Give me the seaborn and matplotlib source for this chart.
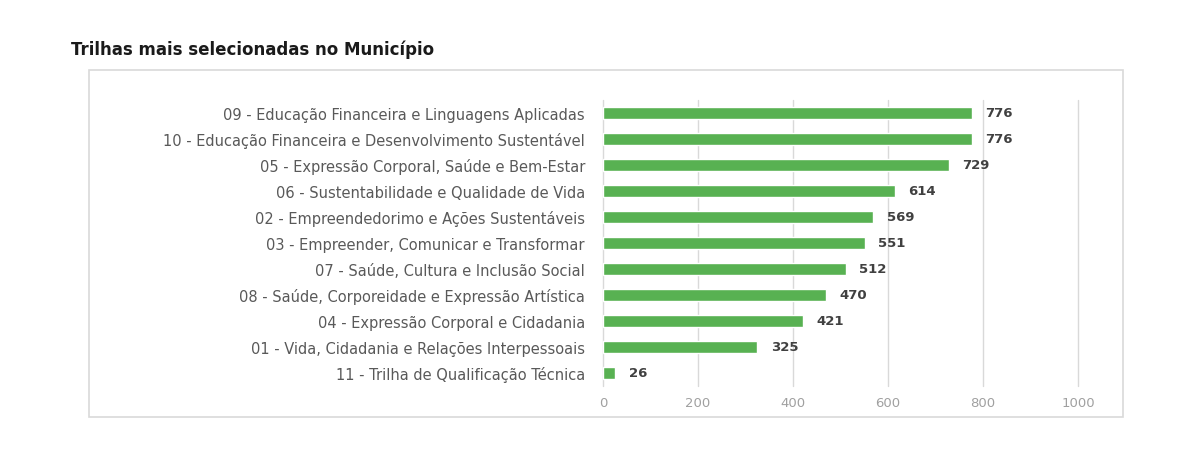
import matplotlib
matplotlib.use("Agg")
import matplotlib.pyplot as plt
import seaborn as sns
import pandas as pd
from matplotlib.patches import Rectangle

categories = [
    "09 - Educação Financeira e Linguagens Aplicadas",
    "10 - Educação Financeira e Desenvolvimento Sustentável",
    "05 - Expressão Corporal, Saúde e Bem-Estar",
    "06 - Sustentabilidade e Qualidade de Vida",
    "02 - Empreendedorimo e Ações Sustentáveis",
    "03 - Empreender, Comunicar e Transformar",
    "07 - Saúde, Cultura e Inclusão Social",
    "08 - Saúde, Corporeidade e Expressão Artística",
    "04 - Expressão Corporal e Cidadania",
    "01 - Vida, Cidadania e Relações Interpessoais",
    "11 - Trilha de Qualificação Técnica",
]
values = [776, 776, 729, 614, 569, 551, 512, 470, 421, 325, 26]
xticks = [0, 200, 400, 600, 800, 1000]
title = "Trilhas mais selecionadas no Município"

sns.set_theme(style="white")
plt.rcParams["font.family"] = ["DejaVu Sans"]

df = pd.DataFrame({"cat": categories, "val": values})

fig = plt.figure(figsize=(11.96, 4.52), dpi=100)
fig.patch.set_facecolor("white")

# outer chart box
fig.patches.append(Rectangle((89 / 1196, 1 - 418 / 452), (1123 - 89) / 1196, (418 - 71) / 452,
                             transform=fig.transFigure, fill=False, edgecolor="#d9d9d9", linewidth=1.2))

ax = fig.add_axes([603 / 1196, 1 - 387 / 452, 475 / 1196, 286 / 452])
sns.barplot(data=df, x="val", y="cat", color="#58b152", width=0.46, ax=ax, saturation=1)

ax.set_xlim(0, 1000)
ax.set_xticks(xticks)
ax.set_xticklabels([str(t) for t in xticks], color="#a0a0a0", fontsize=9.5)
ax.tick_params(axis="y", labelsize=10.5, labelcolor="#595959", length=0, pad=13)
ax.tick_params(axis="x", length=0, pad=7)
ax.set_xlabel("")
ax.set_ylabel("")
for s in ax.spines.values():
    s.set_visible(False)
ax.grid(axis="x", color="#d9d9d9", linewidth=1)
ax.set_axisbelow(True)
for gl in ax.xaxis.get_gridlines():
    gl.set_clip_on(False)

for i, v in enumerate(values):
    ax.text(v + 28, i, str(v), va="center", ha="left", fontsize=9.5, color="#404040", fontweight="bold")

fig.text(71 / 1196, 1 - 50 / 452, title, fontsize=12, fontweight="bold", color="#1a1a1a",
         ha="left", va="center")

fig.savefig("out.png", dpi=100, facecolor="white")
